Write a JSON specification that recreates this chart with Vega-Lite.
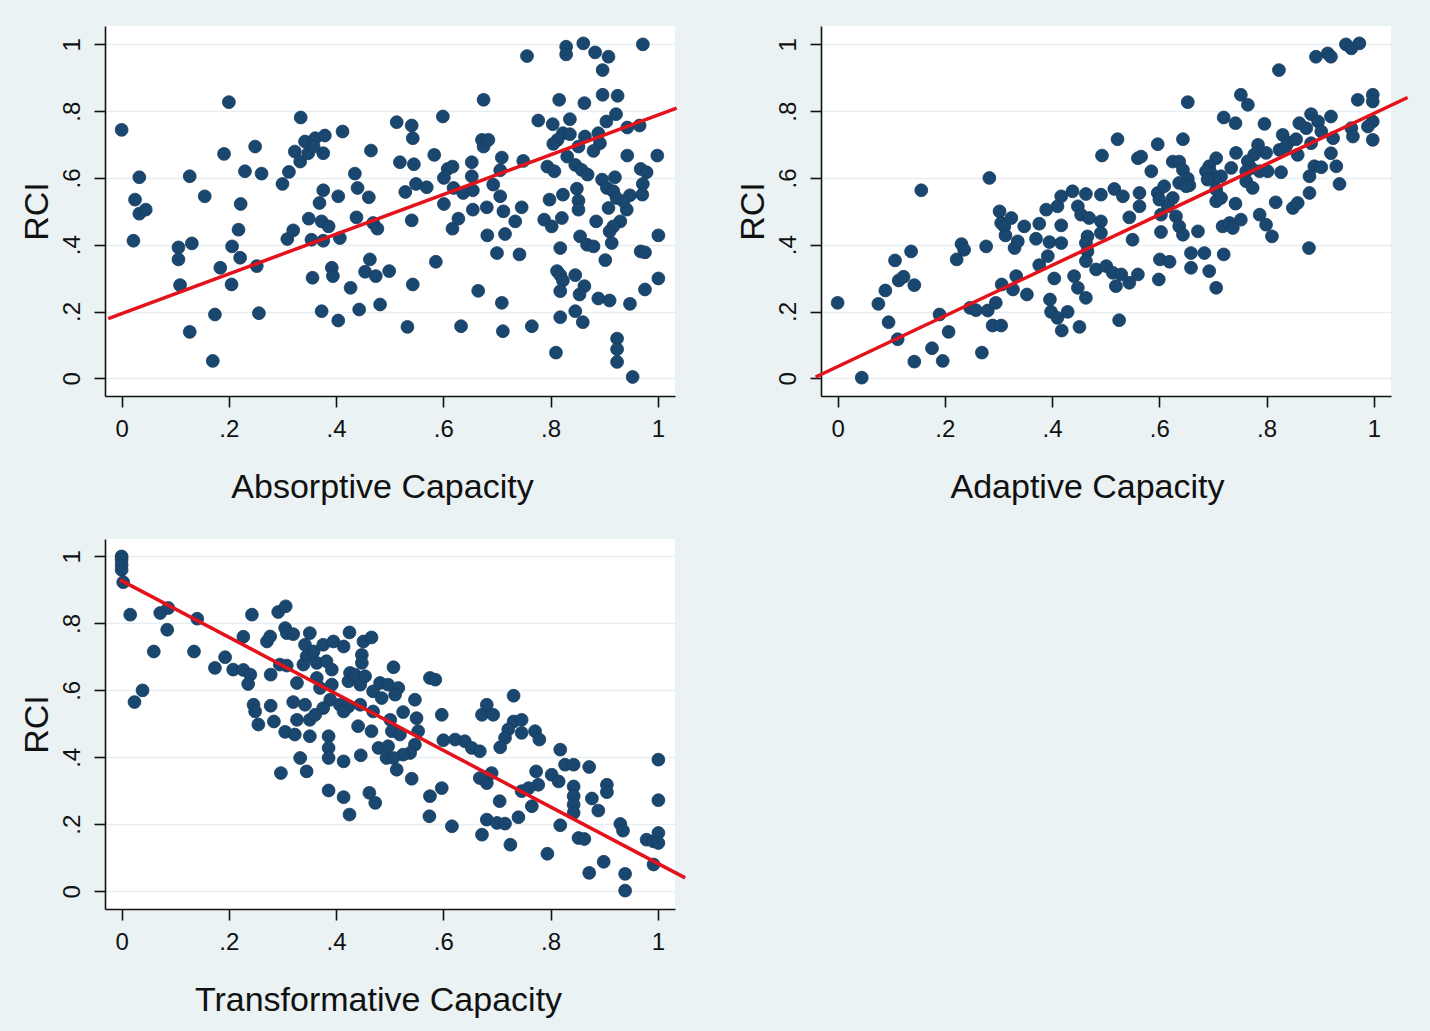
{
  "$schema": "https://vega.github.io/schema/vega-lite/v6.json",
  "background": "#eaf2f3",
  "padding": {"left": 20, "top": 26, "right": 29, "bottom": 18},
  "spacing": 35,
  "datasets": {
    "absorptive": [
      {"x":0,"y":0.744},{"x":0.033,"y":0.602},{"x":0.025,"y":0.535},{"x":0.033,"y":0.493},{"x":0.045,"y":0.505},{"x":0.022,"y":0.412},{"x":0.106,"y":0.392},{"x":0.106,"y":0.356},{"x":0.131,"y":0.404},{"x":0.109,"y":0.279},{"x":0.127,"y":0.605},{"x":0.155,"y":0.545},{"x":0.174,"y":0.191},{"x":0.127,"y":0.139},{"x":0.170,"y":0.052},{"x":0.200,"y":0.827},{"x":0.191,"y":0.672},{"x":0.184,"y":0.331},{"x":0.206,"y":0.395},{"x":0.221,"y":0.361},{"x":0.205,"y":0.281},{"x":0.218,"y":0.445},{"x":0.222,"y":0.522},{"x":0.230,"y":0.620},{"x":0.249,"y":0.694},{"x":0.261,"y":0.613},{"x":0.252,"y":0.336},{"x":0.256,"y":0.195},{"x":0.300,"y":0.582},{"x":0.312,"y":0.618},{"x":0.309,"y":0.417},{"x":0.320,"y":0.443},
      {"x":0.334,"y":0.781},{"x":0.323,"y":0.679},{"x":0.333,"y":0.649},{"x":0.342,"y":0.709},{"x":0.348,"y":0.674},{"x":0.361,"y":0.719},{"x":0.376,"y":0.674},{"x":0.379,"y":0.727},{"x":0.358,"y":0.694},{"x":0.412,"y":0.739},{"x":0.465,"y":0.682},{"x":0.435,"y":0.613},{"x":0.440,"y":0.570},{"x":0.461,"y":0.542},{"x":0.404,"y":0.545},{"x":0.376,"y":0.563},{"x":0.369,"y":0.525},{"x":0.349,"y":0.478},{"x":0.373,"y":0.470},{"x":0.386,"y":0.455},{"x":0.354,"y":0.415},{"x":0.376,"y":0.412},{"x":0.407,"y":0.420},{"x":0.438,"y":0.482},{"x":0.469,"y":0.465},{"x":0.477,"y":0.448},{"x":0.463,"y":0.356},{"x":0.454,"y":0.319},{"x":0.474,"y":0.306},{"x":0.499,"y":0.321},{"x":0.392,"y":0.331},{"x":0.394,"y":0.306},{"x":0.356,"y":0.301},{"x":0.427,"y":0.271},{"x":0.373,"y":0.201},{"x":0.404,"y":0.173},{"x":0.443,"y":0.206},{"x":0.482,"y":0.221},{"x":0.513,"y":0.767},{"x":0.541,"y":0.757},{"x":0.543,"y":0.719},{"x":0.519,"y":0.647},{"x":0.545,"y":0.641},{"x":0.529,"y":0.558},{"x":0.549,"y":0.582},{"x":0.569,"y":0.572},{"x":0.583,"y":0.669},{"x":0.541,"y":0.473},{"x":0.543,"y":0.281},{"x":0.533,"y":0.154},{"x":0.586,"y":0.349},{"x":0.599,"y":0.784},{"x":0.601,"y":0.600},{"x":0.608,"y":0.627},{"x":0.617,"y":0.634},{"x":0.601,"y":0.522},{"x":0.619,"y":0.570},{"x":0.628,"y":0.478},{"x":0.617,"y":0.448},{"x":0.637,"y":0.555},{"x":0.653,"y":0.647},{"x":0.653,"y":0.605},{"x":0.655,"y":0.563},{"x":0.655,"y":0.505},{"x":0.633,"y":0.156},{"x":0.665,"y":0.262},{"x":0.675,"y":0.834},{"x":0.672,"y":0.714},{"x":0.675,"y":0.694},{"x":0.681,"y":0.512},{"x":0.682,"y":0.428},
      {"x":0.684,"y":0.714},{"x":0.756,"y":0.965},{"x":0.709,"y":0.661},{"x":0.706,"y":0.623},{"x":0.693,"y":0.580},{"x":0.706,"y":0.545},{"x":0.712,"y":0.500},{"x":0.746,"y":0.512},{"x":0.734,"y":0.470},{"x":0.749,"y":0.651},{"x":0.715,"y":0.432},{"x":0.700,"y":0.375},{"x":0.742,"y":0.371},{"x":0.709,"y":0.226},{"x":0.711,"y":0.141},{"x":0.765,"y":0.156},{"x":0.829,"y":0.993},{"x":0.829,"y":0.970},{"x":0.861,"y":1.003},{"x":0.883,"y":0.976},{"x":0.908,"y":0.963},{"x":0.897,"y":0.923},{"x":0.972,"y":1.000},{"x":0.816,"y":0.834},{"x":0.863,"y":0.824},{"x":0.897,"y":0.849},{"x":0.925,"y":0.846},{"x":0.777,"y":0.772},{"x":0.804,"y":0.761},{"x":0.836,"y":0.776},{"x":0.823,"y":0.734},{"x":0.813,"y":0.714},{"x":0.805,"y":0.702},{"x":0.836,"y":0.731},{"x":0.864,"y":0.724},{"x":0.889,"y":0.734},{"x":0.904,"y":0.769},{"x":0.922,"y":0.791},{"x":0.943,"y":0.751},{"x":0.966,"y":0.757},{"x":0.892,"y":0.704},{"x":0.880,"y":0.681},{"x":0.831,"y":0.664},{"x":0.846,"y":0.639},{"x":0.852,"y":0.694},{"x":0.794,"y":0.634},{"x":0.807,"y":0.620},{"x":0.858,"y":0.624},{"x":0.869,"y":0.610},{"x":0.943,"y":0.667},{"x":0.999,"y":0.667},{"x":0.968,"y":0.627},{"x":0.979,"y":0.617},{"x":0.972,"y":0.582},{"x":0.971,"y":0.550},{"x":0.948,"y":0.548},{"x":0.896,"y":0.595},{"x":0.920,"y":0.602},{"x":0.905,"y":0.570},{"x":0.917,"y":0.560},{"x":0.923,"y":0.540},{"x":0.849,"y":0.568},{"x":0.852,"y":0.532},{"x":0.852,"y":0.505},{"x":0.823,"y":0.550},{"x":0.798,"y":0.535},{"x":0.908,"y":0.510},{"x":0.942,"y":0.505},{"x":0.936,"y":0.530},{"x":0.788,"y":0.475},{"x":0.802,"y":0.455},{"x":0.821,"y":0.480},{"x":0.885,"y":0.470},{"x":0.930,"y":0.470},{"x":0.917,"y":0.455},{"x":0.910,"y":0.440},{"x":0.914,"y":0.405},{"x":0.855,"y":0.425},{"x":0.868,"y":0.400},{"x":0.880,"y":0.395},{"x":0.818,"y":0.390},{"x":0.902,"y":0.354},{"x":0.968,"y":0.380},{"x":0.976,"y":0.377},{"x":1.001,"y":0.428},{"x":0.812,"y":0.321},{"x":0.818,"y":0.309},{"x":0.823,"y":0.293},{"x":0.846,"y":0.309},{"x":0.863,"y":0.276},{"x":0.818,"y":0.261},{"x":0.854,"y":0.251},{"x":0.889,"y":0.239},{"x":0.910,"y":0.233},{"x":0.948,"y":0.223},{"x":0.976,"y":0.266},{"x":1.001,"y":0.299},{"x":0.818,"y":0.183},{"x":0.846,"y":0.201},{"x":0.860,"y":0.168},{"x":0.810,"y":0.077},{"x":0.924,"y":0.119},{"x":0.924,"y":0.087},{"x":0.924,"y":0.049},{"x":0.953,"y":0.004}
    ],
    "adaptive": [
      {"x":0,"y":0.226},{"x":0.045,"y":0.002},{"x":0.076,"y":0.223},{"x":0.089,"y":0.263},{"x":0.095,"y":0.168},{"x":0.107,"y":0.353},{"x":0.112,"y":0.117},{"x":0.114,"y":0.293},{"x":0.123,"y":0.304},{"x":0.137,"y":0.380},{"x":0.143,"y":0.279},{"x":0.143,"y":0.050},{"x":0.156,"y":0.563},{"x":0.176,"y":0.090},{"x":0.190,"y":0.191},{"x":0.196,"y":0.052},{"x":0.207,"y":0.139},{"x":0.222,"y":0.356},{"x":0.231,"y":0.402},{"x":0.236,"y":0.385},{"x":0.247,"y":0.211},{"x":0.258,"y":0.204},{"x":0.269,"y":0.077},{"x":0.277,"y":0.395},{"x":0.283,"y":0.600},{"x":0.280,"y":0.203},{"x":0.289,"y":0.158},{"x":0.305,"y":0.158},{"x":0.295,"y":0.226},{"x":0.306,"y":0.281},{"x":0.302,"y":0.500},{"x":0.305,"y":0.465},{"x":0.311,"y":0.455},{"x":0.313,"y":0.428},{"x":0.324,"y":0.480},{"x":0.330,"y":0.390},{"x":0.333,"y":0.306},{"x":0.327,"y":0.266},
      {"x":0.653,"y":0.827},{"x":0.522,"y":0.716},{"x":0.493,"y":0.667},{"x":0.597,"y":0.701},{"x":0.644,"y":0.716},{"x":0.560,"y":0.659},{"x":0.566,"y":0.664},{"x":0.585,"y":0.620},{"x":0.625,"y":0.649},{"x":0.637,"y":0.649},{"x":0.644,"y":0.624},{"x":0.653,"y":0.598},{"x":0.656,"y":0.578},{"x":0.438,"y":0.560},{"x":0.417,"y":0.545},{"x":0.410,"y":0.515},{"x":0.463,"y":0.552},{"x":0.491,"y":0.550},{"x":0.516,"y":0.567},{"x":0.532,"y":0.545},{"x":0.563,"y":0.555},{"x":0.563,"y":0.515},{"x":0.597,"y":0.555},{"x":0.609,"y":0.575},{"x":0.600,"y":0.535},{"x":0.625,"y":0.540},{"x":0.616,"y":0.515},{"x":0.637,"y":0.585},{"x":0.650,"y":0.575},{"x":0.448,"y":0.515},{"x":0.454,"y":0.490},{"x":0.469,"y":0.480},{"x":0.389,"y":0.505},{"x":0.348,"y":0.455},{"x":0.376,"y":0.463},{"x":0.417,"y":0.458},{"x":0.491,"y":0.470},{"x":0.491,"y":0.435},{"x":0.466,"y":0.425},{"x":0.463,"y":0.405},{"x":0.544,"y":0.482},{"x":0.550,"y":0.415},{"x":0.603,"y":0.490},{"x":0.603,"y":0.438},{"x":0.631,"y":0.485},{"x":0.637,"y":0.455},{"x":0.644,"y":0.430},{"x":0.672,"y":0.440},{"x":0.370,"y":0.418},{"x":0.395,"y":0.408},{"x":0.417,"y":0.405},{"x":0.336,"y":0.410},{"x":0.392,"y":0.366},{"x":0.376,"y":0.339},{"x":0.466,"y":0.380},{"x":0.463,"y":0.351},{"x":0.659,"y":0.375},{"x":0.601,"y":0.356},{"x":0.619,"y":0.349},{"x":0.659,"y":0.331},{"x":0.482,"y":0.326},{"x":0.501,"y":0.336},{"x":0.513,"y":0.316},{"x":0.529,"y":0.311},{"x":0.544,"y":0.286},{"x":0.519,"y":0.276},{"x":0.560,"y":0.311},{"x":0.599,"y":0.296},{"x":0.353,"y":0.251},{"x":0.404,"y":0.299},{"x":0.441,"y":0.306},{"x":0.448,"y":0.271},{"x":0.463,"y":0.241},{"x":0.396,"y":0.236},{"x":0.398,"y":0.199},{"x":0.410,"y":0.181},{"x":0.429,"y":0.199},{"x":0.418,"y":0.143},{"x":0.451,"y":0.154},{"x":0.525,"y":0.174},
      {"x":0.823,"y":0.923},{"x":0.892,"y":0.963},{"x":0.914,"y":0.973},{"x":0.920,"y":0.963},{"x":0.948,"y":1.000},{"x":0.958,"y":0.988},{"x":0.973,"y":1.003},{"x":0.752,"y":0.849},{"x":0.765,"y":0.819},{"x":0.720,"y":0.781},{"x":0.742,"y":0.764},{"x":0.796,"y":0.762},{"x":0.970,"y":0.834},{"x":0.998,"y":0.849},{"x":0.998,"y":0.829},{"x":0.998,"y":0.769},{"x":0.989,"y":0.754},{"x":0.883,"y":0.791},{"x":0.896,"y":0.769},{"x":0.920,"y":0.784},{"x":0.861,"y":0.764},{"x":0.874,"y":0.749},{"x":0.902,"y":0.739},{"x":0.830,"y":0.729},{"x":0.840,"y":0.706},{"x":0.855,"y":0.716},{"x":0.958,"y":0.749},{"x":0.961,"y":0.724},{"x":0.924,"y":0.719},{"x":0.998,"y":0.714},{"x":0.883,"y":0.704},{"x":0.824,"y":0.684},{"x":0.836,"y":0.694},{"x":0.784,"y":0.699},{"x":0.799,"y":0.675},{"x":0.777,"y":0.670},{"x":0.743,"y":0.675},{"x":0.858,"y":0.669},{"x":0.920,"y":0.674},{"x":0.930,"y":0.635},{"x":0.706,"y":0.659},{"x":0.693,"y":0.635},{"x":0.696,"y":0.615},{"x":0.687,"y":0.620},{"x":0.765,"y":0.650},{"x":0.771,"y":0.630},{"x":0.787,"y":0.620},{"x":0.802,"y":0.620},{"x":0.762,"y":0.620},{"x":0.734,"y":0.630},{"x":0.715,"y":0.605},{"x":0.703,"y":0.595},{"x":0.690,"y":0.595},{"x":0.889,"y":0.635},{"x":0.902,"y":0.632},{"x":0.880,"y":0.605},{"x":0.827,"y":0.617},{"x":0.936,"y":0.582},{"x":0.762,"y":0.590},{"x":0.774,"y":0.570},{"x":0.706,"y":0.565},{"x":0.706,"y":0.530},{"x":0.715,"y":0.540},{"x":0.742,"y":0.523},{"x":0.817,"y":0.527},{"x":0.849,"y":0.510},{"x":0.858,"y":0.525},{"x":0.880,"y":0.555},{"x":0.787,"y":0.490},{"x":0.799,"y":0.460},{"x":0.718,"y":0.455},{"x":0.731,"y":0.465},{"x":0.737,"y":0.450},{"x":0.752,"y":0.475},{"x":0.810,"y":0.425},{"x":0.879,"y":0.390},{"x":0.684,"y":0.375},{"x":0.720,"y":0.371},{"x":0.693,"y":0.321},{"x":0.706,"y":0.271}
    ],
    "transformative": [
      {"x":0,"y":1.0},{"x":0,"y":0.99},{"x":0,"y":0.975},{"x":0,"y":0.96},{"x":0.003,"y":0.923},{"x":0.016,"y":0.826},{"x":0.072,"y":0.831},{"x":0.087,"y":0.846},{"x":0.085,"y":0.781},{"x":0.060,"y":0.716},{"x":0.039,"y":0.600},{"x":0.024,"y":0.565},{"x":0.141,"y":0.814},{"x":0.135,"y":0.716},{"x":0.243,"y":0.826},{"x":0.227,"y":0.760},{"x":0.193,"y":0.699},{"x":0.174,"y":0.667},{"x":0.208,"y":0.662},{"x":0.227,"y":0.661},{"x":0.240,"y":0.647},{"x":0.236,"y":0.619},{"x":0.271,"y":0.746},{"x":0.277,"y":0.761},{"x":0.278,"y":0.647},{"x":0.292,"y":0.834},{"x":0.306,"y":0.851},{"x":0.305,"y":0.786},{"x":0.308,"y":0.771},{"x":0.320,"y":0.768},{"x":0.295,"y":0.677},{"x":0.308,"y":0.674},{"x":0.327,"y":0.622},{"x":0.246,"y":0.557},{"x":0.249,"y":0.537},{"x":0.255,"y":0.498},{"x":0.278,"y":0.554},{"x":0.284,"y":0.507},{"x":0.320,"y":0.565},{"x":0.327,"y":0.512},{"x":0.305,"y":0.476},{"x":0.323,"y":0.468},{"x":0.297,"y":0.353},{"x":0.333,"y":0.398},
      {"x":0.351,"y":0.771},{"x":0.342,"y":0.736},{"x":0.345,"y":0.701},{"x":0.339,"y":0.677},{"x":0.358,"y":0.716},{"x":0.376,"y":0.736},{"x":0.395,"y":0.746},{"x":0.414,"y":0.731},{"x":0.364,"y":0.682},{"x":0.382,"y":0.687},{"x":0.392,"y":0.662},{"x":0.425,"y":0.773},{"x":0.451,"y":0.746},{"x":0.466,"y":0.758},{"x":0.448,"y":0.706},{"x":0.448,"y":0.682},{"x":0.426,"y":0.652},{"x":0.423,"y":0.627},{"x":0.435,"y":0.647},{"x":0.454,"y":0.642},{"x":0.445,"y":0.617},{"x":0.507,"y":0.669},{"x":0.364,"y":0.637},{"x":0.370,"y":0.607},{"x":0.392,"y":0.617},{"x":0.482,"y":0.622},{"x":0.497,"y":0.617},{"x":0.516,"y":0.607},{"x":0.575,"y":0.637},{"x":0.585,"y":0.632},{"x":0.469,"y":0.597},{"x":0.485,"y":0.577},{"x":0.510,"y":0.587},{"x":0.389,"y":0.572},{"x":0.407,"y":0.557},{"x":0.423,"y":0.552},{"x":0.547,"y":0.572},{"x":0.342,"y":0.557},{"x":0.376,"y":0.547},{"x":0.414,"y":0.537},{"x":0.445,"y":0.557},{"x":0.469,"y":0.537},{"x":0.525,"y":0.535},{"x":0.597,"y":0.527},{"x":0.672,"y":0.527},{"x":0.681,"y":0.557},{"x":0.351,"y":0.512},{"x":0.361,"y":0.527},{"x":0.501,"y":0.512},{"x":0.550,"y":0.517},{"x":0.441,"y":0.493},{"x":0.466,"y":0.478},{"x":0.504,"y":0.478},{"x":0.519,"y":0.468},{"x":0.553,"y":0.478},{"x":0.351,"y":0.463},{"x":0.386,"y":0.463},{"x":0.386,"y":0.428},{"x":0.386,"y":0.398},{"x":0.600,"y":0.451},{"x":0.622,"y":0.453},{"x":0.640,"y":0.448},{"x":0.653,"y":0.428},{"x":0.668,"y":0.418},{"x":0.547,"y":0.438},{"x":0.538,"y":0.413},{"x":0.525,"y":0.408},{"x":0.479,"y":0.428},{"x":0.497,"y":0.433},{"x":0.494,"y":0.398},{"x":0.507,"y":0.398},{"x":0.513,"y":0.363},{"x":0.446,"y":0.406},{"x":0.414,"y":0.388},{"x":0.345,"y":0.358},{"x":0.541,"y":0.336},{"x":0.668,"y":0.338},{"x":0.681,"y":0.323},{"x":0.386,"y":0.301},{"x":0.414,"y":0.281},{"x":0.462,"y":0.294},{"x":0.473,"y":0.264},{"x":0.425,"y":0.229},{"x":0.597,"y":0.308},{"x":0.575,"y":0.284},{"x":0.574,"y":0.224},{"x":0.616,"y":0.194},{"x":0.672,"y":0.169},{"x":0.681,"y":0.214},
      {"x":0.731,"y":0.584},{"x":0.693,"y":0.527},{"x":0.731,"y":0.507},{"x":0.746,"y":0.512},{"x":0.746,"y":0.473},{"x":0.721,"y":0.483},{"x":0.715,"y":0.458},{"x":0.706,"y":0.430},{"x":0.771,"y":0.478},{"x":0.779,"y":0.453},{"x":0.818,"y":0.423},{"x":0.827,"y":0.378},{"x":0.843,"y":0.378},{"x":0.872,"y":0.371},{"x":1.001,"y":0.393},{"x":0.690,"y":0.353},{"x":0.773,"y":0.358},{"x":0.777,"y":0.318},{"x":0.802,"y":0.348},{"x":0.815,"y":0.328},{"x":0.746,"y":0.299},{"x":0.759,"y":0.308},{"x":0.843,"y":0.313},{"x":0.843,"y":0.284},{"x":0.843,"y":0.259},{"x":0.843,"y":0.234},{"x":0.905,"y":0.318},{"x":0.905,"y":0.296},{"x":0.877,"y":0.277},{"x":0.889,"y":0.241},{"x":1.001,"y":0.272},{"x":0.705,"y":0.269},{"x":0.765,"y":0.254},{"x":0.700,"y":0.204},{"x":0.715,"y":0.202},{"x":0.740,"y":0.221},{"x":0.818,"y":0.197},{"x":0.930,"y":0.201},{"x":0.935,"y":0.181},{"x":0.725,"y":0.139},{"x":0.852,"y":0.159},{"x":0.863,"y":0.156},{"x":0.979,"y":0.154},{"x":0.992,"y":0.149},{"x":1.001,"y":0.174},{"x":1.001,"y":0.144},{"x":0.794,"y":0.112},{"x":0.899,"y":0.088},{"x":0.872,"y":0.055},{"x":0.992,"y":0.080},{"x":0.939,"y":0.052},{"x":0.939,"y":0.002}
    ],
    "fit_absorptive": [{"x":-0.025,"y":0.179},{"x":1.035,"y":0.809}],
    "fit_adaptive": [{"x":-0.041,"y":0.004},{"x":1.063,"y":0.841}],
    "fit_transformative": [{"x":-0.003,"y":0.930},{"x":1.051,"y":0.040}]
  },
  "vconcat": [
    {
      "hconcat": [
        {
          "width": 570,
          "height": 370,
          "layer": [
            {
              "data": {"name": "absorptive"},
              "mark": {"type": "circle", "size": 165, "color": "#1a476f", "opacity": 1, "stroke": "#163c5e", "strokeWidth": 0.8},
              "encoding": {
                "x": {"field": "x", "type": "quantitative", "scale": {"domain": [-0.031, 1.032], "nice": false, "zero": false}, "axis": {"title": "Absorptive Capacity", "titleX": 277, "values": [0, 0.2, 0.4, 0.6, 0.8, 1], "labelExpr": "replace(format(datum.value, '.1~f'), '0.', '.')"}},
                "y": {"field": "y", "type": "quantitative", "scale": {"domain": [-0.053, 1.055], "nice": false, "zero": false}, "axis": {"title": "RCI", "values": [0, 0.2, 0.4, 0.6, 0.8, 1], "labelExpr": "replace(format(datum.value, '.1~f'), '0.', '.')"}}
              }
            },
            {
              "data": {"name": "fit_absorptive"},
              "mark": {"type": "line", "color": "#e3121b", "strokeWidth": 3.5},
              "encoding": {
                "x": {"field": "x", "type": "quantitative"},
                "y": {"field": "y", "type": "quantitative"}
              }
            }
          ]
        },
        {
          "width": 570,
          "height": 370,
          "layer": [
            {
              "data": {"name": "adaptive"},
              "mark": {"type": "circle", "size": 165, "color": "#1a476f", "opacity": 1, "stroke": "#163c5e", "strokeWidth": 0.8},
              "encoding": {
                "x": {"field": "x", "type": "quantitative", "scale": {"domain": [-0.031, 1.032], "nice": false, "zero": false}, "axis": {"title": "Adaptive Capacity", "titleX": 266, "values": [0, 0.2, 0.4, 0.6, 0.8, 1], "labelExpr": "replace(format(datum.value, '.1~f'), '0.', '.')"}},
                "y": {"field": "y", "type": "quantitative", "scale": {"domain": [-0.053, 1.055], "nice": false, "zero": false}, "axis": {"title": "RCI", "values": [0, 0.2, 0.4, 0.6, 0.8, 1], "labelExpr": "replace(format(datum.value, '.1~f'), '0.', '.')"}}
              }
            },
            {
              "data": {"name": "fit_adaptive"},
              "mark": {"type": "line", "color": "#e3121b", "strokeWidth": 3.5},
              "encoding": {
                "x": {"field": "x", "type": "quantitative"},
                "y": {"field": "y", "type": "quantitative"}
              }
            }
          ]
        }
      ],
      "spacing": 52
    },
    {
      "width": 570,
      "height": 370,
      "layer": [
        {
          "data": {"name": "transformative"},
          "mark": {"type": "circle", "size": 165, "color": "#1a476f", "opacity": 1, "stroke": "#163c5e", "strokeWidth": 0.8},
          "encoding": {
            "x": {"field": "x", "type": "quantitative", "scale": {"domain": [-0.031, 1.032], "nice": false, "zero": false}, "axis": {"title": "Transformative Capacity", "titleX": 273, "values": [0, 0.2, 0.4, 0.6, 0.8, 1], "labelExpr": "replace(format(datum.value, '.1~f'), '0.', '.')"}},
            "y": {"field": "y", "type": "quantitative", "scale": {"domain": [-0.053, 1.052], "nice": false, "zero": false}, "axis": {"title": "RCI", "values": [0, 0.2, 0.4, 0.6, 0.8, 1], "labelExpr": "replace(format(datum.value, '.1~f'), '0.', '.')"}}
          }
        },
        {
          "data": {"name": "fit_transformative"},
          "mark": {"type": "line", "color": "#e3121b", "strokeWidth": 3.5},
          "encoding": {
            "x": {"field": "x", "type": "quantitative"},
            "y": {"field": "y", "type": "quantitative"}
          }
        }
      ]
    }
  ],
  "config": {
    "view": {"stroke": null, "fill": "#ffffff"},
    "font": "Liberation Sans",
    "axis": {
      "domainColor": "#111111",
      "domainWidth": 1.6,
      "tickColor": "#111111",
      "tickWidth": 1.6,
      "tickSize": 11,
      "labelFont": "Liberation Sans",
      "labelFontSize": 24,
      "labelColor": "#111111",
      "labelPadding": 10,
      "labelFlush": false,
      "labelOverlap": false,
      "titleFont": "Liberation Sans",
      "titleFontSize": 34,
      "titleFontWeight": "normal",
      "titleColor": "#111111"
    },
    "axisX": {"grid": false, "titlePadding": 29},
    "axisY": {"grid": true, "gridColor": "#e6eef1", "gridWidth": 1.6, "labelAngle": -90, "labelAlign": "center", "labelBaseline": "bottom", "titlePadding": 6}
  }
}
